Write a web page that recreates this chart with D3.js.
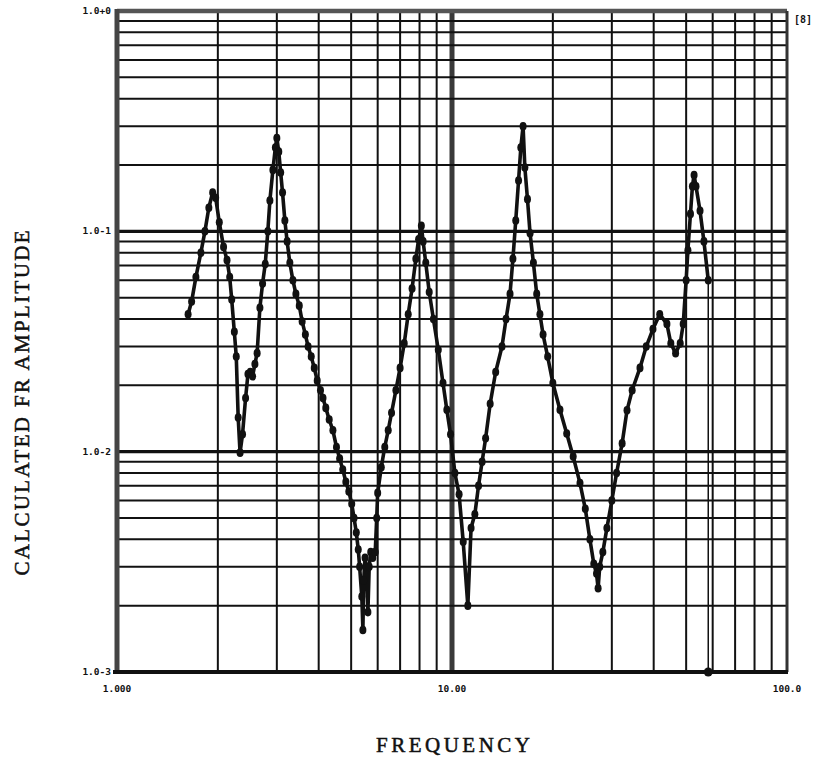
<!DOCTYPE html>
<html>
<head>
<meta charset="utf-8">
<script src="https://cdn.jsdelivr.net/npm/d3@7"></script>
<style>
    body { margin: 0; background: #fff; }
    #chart-area { width: 815px; height: 758px; }
    .tick-label { font-family: "DejaVu Sans Mono", monospace; font-weight: bold; font-size: 9.5px; fill: #111; }
    .axis-title { font-family: "Liberation Serif", serif; font-size: 21px; fill: #111; stroke: #111; stroke-width: 0.5px; }
</style>
</head>
<body>
<div id="chart-area"></div>
<script>

// frequency response points
let freqs = [1.63, 1.67, 1.72, 1.78, 1.83, 1.88, 1.93, 1.97, 2.02, 2.08, 2.13, 2.17, 2.20, 2.24, 2.27, 2.30, 2.33,
    2.37, 2.42, 2.46, 2.50, 2.54, 2.58, 2.62, 2.67, 2.72, 2.77, 2.82, 2.86, 2.92, 2.97, 3.00,
    3.04, 3.08, 3.12, 3.17, 3.22, 3.28, 3.35, 3.42, 3.50, 3.57, 3.65, 3.72, 3.80, 3.88, 3.96, 4.05, 4.12,
    4.20, 4.30, 4.41, 4.52, 4.62, 4.72, 4.82, 4.92, 5.02, 5.10, 5.18, 5.25, 5.30, 5.38, 5.42,
    5.45, 5.50, 5.55, 5.61, 5.66, 5.72, 5.80, 5.90, 5.96, 6.00, 6.15, 6.30, 6.45, 6.60, 6.80,
    7.00, 7.20, 7.40, 7.60, 7.80, 7.95, 8.10, 8.20, 8.35, 8.55, 8.80, 9.10, 9.40, 9.65, 9.90,
    10.2, 10.5, 10.8, 11.15, 11.4, 11.7, 12.0, 12.3, 12.6, 13.0, 13.5, 14.1, 14.5, 14.9, 15.2,
    15.5, 15.8, 16.05, 16.3, 16.5, 16.8, 17.1, 17.5, 17.9, 18.3, 18.7, 19.3, 20.0, 21.0, 22.0,
    23.0, 24.1, 25.0, 25.8, 26.5, 27.0, 27.3, 27.6, 28.2, 29.0, 30.0, 31.0, 32.2, 33.3, 34.5,
    36.4, 38.0, 39.8, 41.7, 43.8, 45.0, 46.5, 48.0, 49.0, 50.0, 50.6, 51.5, 52.2, 52.8, 53.5,
    55.0, 56.5, 58.2];

let amps = [0.042, 0.048, 0.062, 0.080, 0.100, 0.128, 0.150, 0.142, 0.110, 0.085, 0.074, 0.062, 0.049, 0.035, 0.027, 0.0143, 0.0099,
    0.0120, 0.0175, 0.0225, 0.0230, 0.0220, 0.025, 0.028, 0.045, 0.058, 0.071, 0.100, 0.138, 0.190, 0.240, 0.265,
    0.230, 0.185, 0.150, 0.112, 0.090, 0.072, 0.060, 0.052, 0.046, 0.039, 0.034, 0.030, 0.027, 0.024, 0.021, 0.019, 0.0175,
    0.0158, 0.0140, 0.0125, 0.0105, 0.0093, 0.0083, 0.0073, 0.0066, 0.0058, 0.0050, 0.0043, 0.0036, 0.0030, 0.0022, 0.00155,
    0.0026, 0.0033, 0.0030, 0.00187, 0.0030, 0.0035, 0.0033, 0.0035, 0.0050, 0.0065, 0.0085, 0.0105, 0.0125, 0.0150, 0.019,
    0.024, 0.031, 0.042, 0.055, 0.075, 0.092, 0.106, 0.090, 0.072, 0.053, 0.040, 0.029, 0.0205, 0.0155, 0.0120,
    0.0080, 0.0064, 0.0039, 0.0020, 0.0045, 0.0052, 0.0070, 0.0090, 0.0115, 0.0165, 0.0230, 0.0300, 0.040, 0.052, 0.075,
    0.112, 0.170, 0.240, 0.300, 0.195, 0.140, 0.098, 0.072, 0.052, 0.042, 0.034, 0.027, 0.0205, 0.0155, 0.0121,
    0.0095, 0.0072, 0.0055, 0.0040, 0.0031, 0.0028, 0.0024, 0.0030, 0.0035, 0.0045, 0.0060, 0.0080, 0.0109, 0.0154, 0.019,
    0.024, 0.030, 0.036, 0.042, 0.038, 0.031, 0.028, 0.031, 0.038, 0.060, 0.082, 0.120, 0.160, 0.180, 0.160,
    0.124, 0.090, 0.060];

let xTickValues = [1, 10, 100];
let xTickLabels = ["1.000", "10.00", "100.0"];
let yTickValues = [1, 0.1, 0.01, 0.001];
let yTickLabels = ["1.0+0", "1.0-1", "1.0-2", "1.0-3"];


class FreqPlot {

    constructor(parentElement, freqs, amps) {
        this.parentElement = parentElement;
        this.freqs = freqs;
        this.amps = amps;
        this.displayData = [];

        this.initVis();
    }

    initVis() {
        let vis = this;

        vis.margin = {top: 11, right: 28, bottom: 86, left: 117};
        vis.width = 815 - vis.margin.left - vis.margin.right;
        vis.height = 758 - vis.margin.top - vis.margin.bottom;

        vis.svg = d3.select("#" + vis.parentElement).append("svg")
            .attr("width", 815)
            .attr("height", 758)
            .append("g")
            .attr("transform", `translate(${vis.margin.left}, ${vis.margin.top})`);

        // scales (log-log)
        vis.x = d3.scaleLog().domain([1, 100]).range([0, vis.width]);
        vis.y = d3.scaleLog().domain([0.001, 1]).range([vis.height, 0]);

        vis.gridGroup = vis.svg.append("g").attr("class", "grid");
        vis.frameGroup = vis.svg.append("g").attr("class", "frame");
        vis.curveGroup = vis.svg.append("g").attr("class", "curve");
        vis.labelGroup = vis.svg.append("g").attr("class", "labels");

        vis.wrangleData();
    }

    wrangleData() {
        let vis = this;
        vis.displayData = vis.freqs.map((f, i) => ({freq: f, amp: vis.amps[i]}));
        vis.updateVis();
    }

    updateVis() {
        let vis = this;
        let isDecade = v => Math.abs(Math.log10(v) - Math.round(Math.log10(v))) < 1e-9;

        // vertical grid
        vis.gridGroup.selectAll(".vgrid")
            .data(vis.x.ticks().filter(v => v > 1 && v < 100))
            .enter().append("line")
            .attr("class", "vgrid")
            .attr("x1", d => vis.x(d)).attr("x2", d => vis.x(d))
            .attr("y1", 0).attr("y2", vis.height)
            .attr("stroke", d => isDecade(d) ? "#3a3a3a" : "#111")
            .attr("stroke-width", d => isDecade(d) ? 5 : 2);

        // horizontal grid
        vis.gridGroup.selectAll(".hgrid")
            .data(vis.y.ticks().filter(v => v > 0.001 && v < 1))
            .enter().append("line")
            .attr("class", "hgrid")
            .attr("x1", 0).attr("x2", vis.width)
            .attr("y1", d => vis.y(d)).attr("y2", d => vis.y(d))
            .attr("stroke", "#111")
            .attr("stroke-width", d => isDecade(d) ? 3.4 : 2);

        // frame
        vis.frameGroup.append("line")
            .attr("x1", 0).attr("x2", vis.width).attr("y1", 0).attr("y2", 0)
            .attr("stroke", "#555").attr("stroke-width", 4.5);
        vis.frameGroup.append("line")
            .attr("x1", vis.width).attr("x2", vis.width).attr("y1", 0).attr("y2", vis.height)
            .attr("stroke", "#333").attr("stroke-width", 3);
        vis.frameGroup.append("line")
            .attr("x1", 0).attr("x2", 0).attr("y1", -2).attr("y2", vis.height)
            .attr("stroke", "#444").attr("stroke-width", 5);
        vis.frameGroup.append("line")
            .attr("x1", -4).attr("x2", vis.width + 1).attr("y1", vis.height).attr("y2", vis.height)
            .attr("stroke", "#111").attr("stroke-width", 4);

        // the response curve
        vis.curveGroup.append("path")
            .datum(vis.displayData)
            .attr("fill", "none")
            .attr("stroke", "#111")
            .attr("stroke-width", 3.6)
            .attr("stroke-linejoin", "round")
            .attr("d", d3.line()
                .x(d => vis.x(d.freq))
                .y(d => vis.y(d.amp)));

        vis.curveGroup.selectAll(".pt")
            .data(vis.displayData)
            .enter().append("ellipse")
            .attr("class", "pt")
            .attr("cx", d => vis.x(d.freq))
            .attr("cy", d => vis.y(d.amp))
            .attr("rx", 3.5)
            .attr("ry", 4.3)
            .attr("fill", "#111");

        // cursor at the last point
        let last = vis.displayData[vis.displayData.length - 1];
        vis.curveGroup.append("line")
            .attr("x1", vis.x(last.freq)).attr("x2", vis.x(last.freq))
            .attr("y1", vis.y(last.amp)).attr("y2", vis.height)
            .attr("stroke", "#111").attr("stroke-width", 1.5);
        vis.curveGroup.append("circle")
            .attr("cx", vis.x(last.freq))
            .attr("cy", vis.height)
            .attr("r", 4.5)
            .attr("fill", "#111");

        // tick labels
        vis.labelGroup.selectAll(".ylab")
            .data(yTickValues)
            .enter().append("text")
            .attr("class", "tick-label ylab")
            .attr("x", -6)
            .attr("y", d => vis.y(d) + 3)
            .attr("text-anchor", "end")
            .text((d, i) => yTickLabels[i]);

        vis.labelGroup.selectAll(".xlab")
            .data(xTickValues)
            .enter().append("text")
            .attr("class", "tick-label xlab")
            .attr("x", d => vis.x(d))
            .attr("y", vis.height + 20)
            .attr("text-anchor", "middle")
            .text((d, i) => xTickLabels[i]);

        vis.labelGroup.append("text")
            .attr("class", "tick-label")
            .attr("x", vis.width + 7)
            .attr("y", 12)
            .style("font-size", "10px")
            .text("[8]");

        // axis titles
        vis.labelGroup.append("text")
            .attr("class", "axis-title")
            .attr("text-anchor", "middle")
            .attr("x", 336)
            .attr("y", vis.height + 80)
            .attr("textLength", 154)
            .attr("lengthAdjust", "spacing")
            .text("FREQUENCY");

        vis.labelGroup.append("text")
            .attr("class", "axis-title")
            .attr("text-anchor", "middle")
            .attr("transform", `translate(${-88}, ${392}) rotate(-90)`)
            .attr("textLength", 345)
            .attr("lengthAdjust", "spacing")
            .text("CALCULATED FR AMPLITUDE");
    }
}

let freqPlot = new FreqPlot("chart-area", freqs, amps);

</script>
</body>
</html>
